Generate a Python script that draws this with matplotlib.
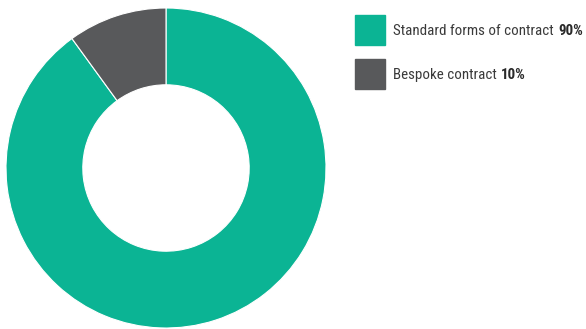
import matplotlib
matplotlib.use("Agg")
import matplotlib.pyplot as plt
from matplotlib.patches import Rectangle

# data
labels = ["Standard forms of contract", "Bespoke contract"]
values = [90, 10]
colors = ["#0BB494", "#58595B"]

plt.rcParams['font.family'] = ['Roboto Condensed', 'Liberation Sans', 'DejaVu Sans']

fig = plt.figure(figsize=(5.86, 3.29), dpi=100)
W, H = 586, 329

# donut
ax = fig.add_axes([6 / W, 1 / H, 320 / W, 320 / H])
ax.pie(values, colors=colors, startangle=90, counterclock=False,
       wedgeprops=dict(width=0.48, edgecolor="white", linewidth=0.8))
ax.set_xlim(-1, 1)
ax.set_ylim(-1, 1)
ax.set_aspect("equal")
ax.axis("off")

# legend drawn by hand: square + label + bold percentage
renderer = fig.canvas.get_renderer()
rows_y = [30, 74]
for lab, val, col, yc in zip(labels, values, colors, rows_y):
    fig.patches.append(Rectangle((355 / W, (H - yc - 15) / H), 30 / W, 30 / H,
                                 transform=fig.transFigure, color=col))
    t = fig.text(393 / W, (H - yc - 1) / H, lab + " ", fontsize=10.8, color="#3a3a3a",
                 va="center", ha="left")
    bb = t.get_window_extent(renderer)
    fig.text((bb.x1 + 1) / W, (H - yc - 1) / H, f"{val}%", fontsize=10.8, color="#2a2a2a",
             fontweight="bold", va="center", ha="left")

fig.savefig("out.png", dpi=100)
